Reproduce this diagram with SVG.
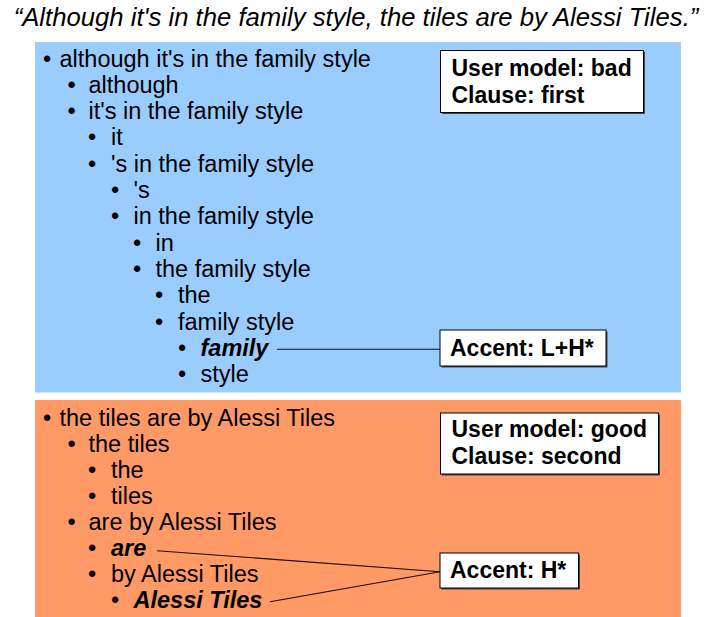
<svg xmlns="http://www.w3.org/2000/svg" width="710" height="617" viewBox="0 0 710 617">
<style>
.t{font-family:"Liberation Sans",Arial,sans-serif;font-size:23.5px;fill:#000}
.bi{font-weight:bold;font-style:italic}
.bx{font-family:"Liberation Sans",Arial,sans-serif;font-size:23px;font-weight:bold;fill:#000}
.title{font-family:"Liberation Sans",Arial,sans-serif;font-size:25.7px;font-style:italic;fill:#000}
.box{fill:#fff;stroke:#000;stroke-width:1}
.sh{fill:#444}
.conn{stroke:#111;stroke-width:1.1;fill:none}
</style>
<rect width="710" height="617" fill="#fff"/>
<text class="title" x="356" y="26" text-anchor="middle">“Although it's in the family style, the tiles are by Alessi Tiles.”</text>

<g id="panel-first">
<rect x="35" y="42" width="646" height="350.5" fill="#99CCFF"/>
<g class="t">
<text x="43" y="66.5">•</text><text x="59.5" y="66.5">although it's in the family style</text>
<text x="67.5" y="92.8">•</text><text x="88.5" y="92.8">although</text>
<text x="67.5" y="119.1">•</text><text x="88.5" y="119.1">it's in the family style</text>
<text x="88" y="145.4">•</text><text x="111" y="145.4">it</text>
<text x="88" y="171.7">•</text><text x="111" y="171.7">'s in the family style</text>
<text x="111" y="198">•</text><text x="133.5" y="198">'s</text>
<text x="111" y="224.3">•</text><text x="133.5" y="224.3">in the family style</text>
<text x="133" y="250.6">•</text><text x="155.5" y="250.6">in</text>
<text x="133" y="276.9">•</text><text x="155.5" y="276.9">the family style</text>
<text x="155" y="303.2">•</text><text x="178" y="303.2">the</text>
<text x="155" y="329.5">•</text><text x="178" y="329.5">family style</text>
<text x="178" y="355.8">•</text><text x="200.5" y="355.8" class="bi">family</text>
<text x="178" y="382.1">•</text><text x="200.5" y="382.1">style</text>
</g>
</g>

<g id="panel-second">
<rect x="35" y="400" width="646" height="217" fill="#FF9966"/>
<g class="t">
<text x="43" y="425.7">•</text><text x="59.5" y="425.7">the tiles are by Alessi Tiles</text>
<text x="67.5" y="451.8">•</text><text x="88.5" y="451.8">the tiles</text>
<text x="88" y="477.9">•</text><text x="111" y="477.9">the</text>
<text x="88" y="504">•</text><text x="111" y="504">tiles</text>
<text x="67.5" y="530.1">•</text><text x="88.5" y="530.1">are by Alessi Tiles</text>
<text x="88" y="556.2">•</text><text x="111" y="556.2" class="bi">are</text>
<text x="88" y="582.3">•</text><text x="111" y="582.3">by Alessi Tiles</text>
<text x="111" y="608.4">•</text><text x="133.5" y="608.4" class="bi">Alessi Tiles</text>
</g>
</g>

<g id="connectors">
<line class="conn" x1="277" y1="349.3" x2="440" y2="349.3"/>
<line class="conn" x1="157" y1="550.7" x2="440" y2="571.7"/>
<line class="conn" x1="270" y1="601.7" x2="440" y2="571.7"/>
</g>

<g id="box-usermodel-bad">
<rect class="sh" x="442" y="52" width="203" height="62"/>
<rect class="box" x="440.5" y="50.5" width="203" height="62"/>
<text class="bx" x="451.5" y="76">User model: bad</text>
<text class="bx" x="451.5" y="103.3">Clause: first</text>
</g>

<g id="box-accent-lh">
<rect class="sh" x="441.5" y="331.5" width="166" height="36"/>
<rect class="box" x="440" y="330" width="166" height="36"/>
<text class="bx" x="450" y="355.5">Accent: L+H*</text>
</g>

<g id="box-usermodel-good">
<rect class="sh" x="442" y="414.5" width="218" height="61"/>
<rect class="box" x="440.5" y="413" width="218" height="61"/>
<text class="bx" x="451.5" y="436.7">User model: good</text>
<text class="bx" x="451.5" y="464">Clause: second</text>
</g>

<g id="box-accent-h">
<rect class="sh" x="441.5" y="554.5" width="138.5" height="35"/>
<rect class="box" x="440" y="553" width="138.5" height="35"/>
<text class="bx" x="450" y="578">Accent: H*</text>
</g>
</svg>
